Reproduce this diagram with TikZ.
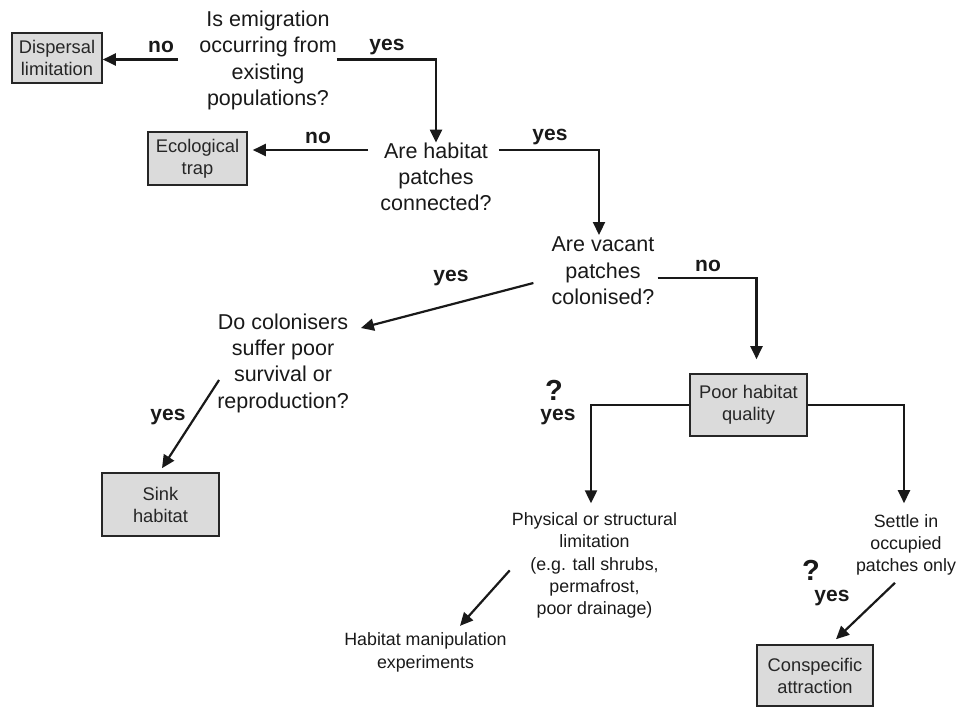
\documentclass[tikz,border=0pt]{standalone}
\usepackage{fontspec}
\setmainfont{Liberation Sans}
\usetikzlibrary{arrows.meta}

\begin{document}
\begin{tikzpicture}[x=1pt,y=-1pt,
  >={Triangle[length=13pt,width=12pt]},
  box/.style={draw=black!85,line width=1.6pt,fill=black!14,align=center,inner sep=0pt,
    text=black!85,font=\fontsize{18.3}{22}\selectfont},
  quest/.style={align=center,inner sep=0pt,text=black!90,font=\fontsize{21.5}{26.3}\selectfont},
  note/.style={align=center,inner sep=0pt,text=black!90,font=\fontsize{17.8}{22.3}\selectfont},
  lab/.style={inner sep=0pt,text=black!90,font=\fontsize{21}{24}\selectfont\bfseries},
  qm/.style={inner sep=0pt,text=black!90,font=\fontsize{29}{30}\selectfont\bfseries},
  conn/.style={->,line width=2.2pt,draw=black!90}]
  \useasboundingbox (0,0) rectangle (958,707);

  % end points
  \node[box,minimum width=90pt,minimum height=50pt] (disp) at (57,58) {Dispersal\\limitation};
  \node[box,minimum width=99pt,minimum height=53pt] (eco) at (197.5,158.5) {Ecological\\trap};
  \node[box,minimum width=117pt,minimum height=63pt] (sink) at (160.5,504.5) {Sink\\habitat};
  \node[box,minimum width=117pt,minimum height=62pt] (poor) at (748.5,405) {Poor habitat\\quality};
  \node[box,minimum width=116pt,minimum height=61pt] (consp) at (815,675.5) {Conspecific\\attraction};

  % questions
  \node[quest] (q1) at (268,60.5) {Is emigration\\occurring from\\existing\\populations?};
  \node[quest] (q2) at (436,177) {Are habitat\\patches\\connected?};
  \node[quest] (q3) at (603,271) {Are vacant\\patches\\colonised?};
  \node[quest] (q4) at (283,363) {Do colonisers\\suffer poor\\survival or\\reproduction?};
  \node[note] (phys) at (594.5,565.4) {Physical or structural\\limitation\\(e.g. tall shrubs,\\permafrost,\\poor drainage)};
  \node[note] (manip) at (425.5,652.5) {Habitat manipulation\\experiments};
  \node[note] (settle) at (906,545) {Settle in\\occupied\\patches only};

  % connectors
  \coordinate (a1) at ([shift={(-21,-1)}]q1.west);
  \draw[conn] (a1) -- (disp.east |- a1);
  \draw[conn] (q1.east |- a1) -| (q2.north);
  \coordinate (a2) at ([shift={(-12,-27)}]q2.west);
  \draw[conn] (a2) -- ([xshift=5pt]eco.east |- a2);
  \draw[conn] ([shift={(7,-27)}]q2.east) -| ([shift={(-4,-2)}]q3.north);
  \draw[conn] ([shift={(3,7)}]q3.east) -| ([shift={(8,-14)}]poor.north);
  \draw[conn] ([shift={(-18,12)}]q3.west) -- ([shift={(12,-35)}]q4.east);
  \draw[conn] ([shift={(2,17)}]q4.west) -- ([shift={(1.5,-4)}]sink.north);
  \draw[conn] (poor.west) -| ([shift={(-3.5,-9)}]phys.north);
  \draw[conn] (poor.east) -| ([shift={(-2,-11)}]settle.north);
  \draw[conn] ([shift={(-2,5)}]phys.west) -- ([shift={(34.5,-7)}]manip.north);
  \draw[conn] ([shift={(-11,7)}]settle.south) -- ([shift={(21,-5)}]consp.north);

  % answers
  \node[lab] (no1) at (161,47) {no};
  \node[lab] (yes1) at (387,47) {yes};
  \node[lab] (no2) at (318,138) {no};
  \node[lab] (yes2) at (550,137) {yes};
  \node[lab] (no3) at (708,266) {no};
  \node[lab] (yes3) at (451,278) {yes};
  \node[lab] (yes4) at (168,417) {yes};
  \node[qm] (qm1) at (554,390) {?};
  \node[lab] (yes5) at (558,417) {yes};
  \node[qm] (qm2) at (811,570) {?};
  \node[lab] (yes6) at (832,598) {yes};
\end{tikzpicture}
\end{document}
